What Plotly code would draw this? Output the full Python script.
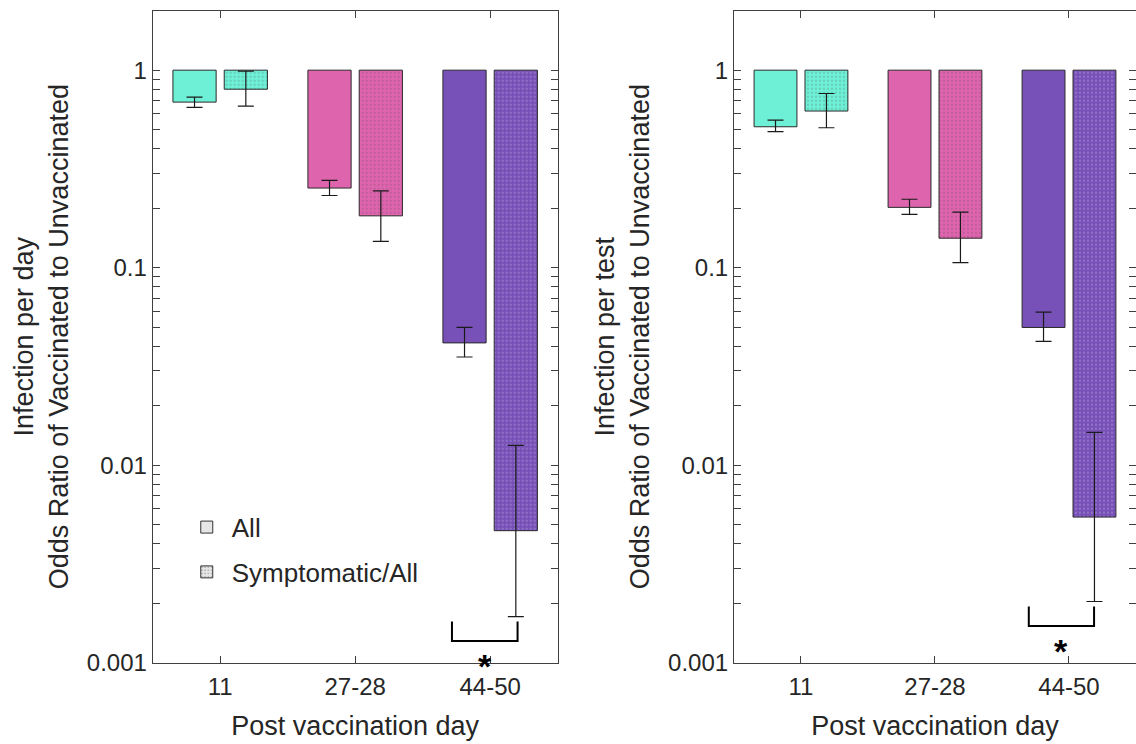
import math
import plotly.graph_objects as go

# ---------------- data ----------------
categories = ["11", "27-28", "44-50"]
cat_pos = [1, 2, 3]

# Left panel: infection per day (odds ratio, vaccinated vs unvaccinated)
day_all = [0.689, 0.253, 0.0416]
day_all_hi = [0.730, 0.277, 0.0498]
day_all_lo = [0.648, 0.232, 0.0353]
day_sym = [0.801, 0.183, 0.00466]
day_sym_hi = [0.99, 0.245, 0.0126]
day_sym_lo = [0.658, 0.136, 0.00171]

# Right panel: infection per test
test_all = [0.517, 0.202, 0.0498]
test_all_hi = [0.559, 0.222, 0.0595]
test_all_lo = [0.488, 0.186, 0.0423]
test_sym = [0.621, 0.141, 0.00546]
test_sym_hi = [0.762, 0.191, 0.01466]
test_sym_lo = [0.511, 0.106, 0.00204]

# significance brackets (x in category units, y in odds-ratio units)
sig_left_x = [2.717, 2.717, 3.203, 3.203]
sig_left_y = [0.001614, 0.001288, 0.001288, 0.001614]
sig_right_x = [2.70, 2.70, 3.187, 3.187]
sig_right_y = [0.001923, 0.001535, 0.001535, 0.001923]

y_tick_vals = [0.001, 0.01, 0.1, 1]
y_tick_text = ["0.001", "0.01", "0.1", "1"]

# ---------------- style ----------------
bar_colors = ["#6EF0D6", "#DE64AE", "#7751B8"]
TXT = "#262626"
AX = "#404040"
FONT = "Liberation Sans, Arial, sans-serif"
BASE = 1.0

DOTS = dict(shape=".", fgcolor="black", size=4, solidity=0.11, fillmode="overlay")

fig = go.Figure()


def add_panel(vals, hi, lo, xa, ya, pattern, offset):
    fig.add_trace(go.Bar(
        x=cat_pos, y=[v - BASE for v in vals], base=BASE,
        width=0.32, offset=offset,
        marker=dict(color=bar_colors, line=dict(color="#2a2a2a", width=1),
                    pattern=pattern),
        error_y=dict(type="data", symmetric=False,
                     array=[h - v for h, v in zip(hi, vals)],
                     arrayminus=[v - l for l, v in zip(lo, vals)],
                     color="#1a1a1a", thickness=1.2, width=8),
        xaxis=xa, yaxis=ya, showlegend=False, hoverinfo="skip"))


add_panel(day_all, day_all_hi, day_all_lo, "x", "y", None, -0.35)
add_panel(day_sym, day_sym_hi, day_sym_lo, "x", "y", DOTS, 0.03)
add_panel(test_all, test_all_hi, test_all_lo, "x2", "y2", None, -0.35)
add_panel(test_sym, test_sym_hi, test_sym_lo, "x2", "y2", DOTS, 0.03)

# brackets
for bx, by, xa, ya in [(sig_left_x, sig_left_y, "x", "y"),
                       (sig_right_x, sig_right_y, "x2", "y2")]:
    fig.add_trace(go.Scatter(x=bx, y=by, mode="lines",
                             line=dict(color="black", width=2),
                             xaxis=xa, yaxis=ya, showlegend=False,
                             cliponaxis=False, hoverinfo="skip"))

# legend keys
fig.add_trace(go.Bar(x=[None], y=[None], name="All",
                     marker=dict(color="#E6E6E6", line=dict(color="#333333", width=1)),
                     xaxis="x", yaxis="y", legendgroup="a"))
fig.add_trace(go.Bar(x=[None], y=[None], name="Symptomatic/All",
                     marker=dict(color="#E6E6E6", line=dict(color="#333333", width=1),
                                 pattern=dict(shape=".", fgcolor="black", size=4,
                                              solidity=0.12, fillmode="overlay")),
                     xaxis="x", yaxis="y", legendgroup="b"))

minor_vals = [m * 10 ** e for e in range(-3, 1) for m in range(2, 10)] + [2]

xcommon = dict(range=[0.5, 3.5], tickmode="array", tickvals=cat_pos, ticktext=categories,
               ticks="inside", ticklen=7, tickcolor=AX, mirror="allticks",
               showline=True, linecolor=AX, linewidth=1, showgrid=False, zeroline=False,
               tickfont=dict(size=24, color=TXT, family=FONT), ticklabelstandoff=3,
               title=dict(text="Post vaccination day", font=dict(size=27, color=TXT, family=FONT),
                          standoff=16),
               automargin=False)
ycommon = dict(type="log", range=[-3, math.log10(2)], tickmode="array",
               tickvals=y_tick_vals, ticktext=y_tick_text,
               ticks="inside", ticklen=7, tickcolor=AX, mirror="allticks",
               minor=dict(tickmode="array", tickvals=minor_vals, ticks="inside",
                          ticklen=7, tickcolor=AX, showgrid=False),
               showline=True, linecolor=AX, linewidth=1, showgrid=False, zeroline=False,
               tickfont=dict(size=24, color=TXT, family=FONT), automargin=False)

fig.update_layout(
    width=1136, height=744,
    margin=dict(l=0, r=0, t=0, b=0),
    paper_bgcolor="white", plot_bgcolor="white",
    barmode="overlay",
    font=dict(family=FONT, color=TXT),
    xaxis=dict(domain=[0.1344, 0.4909], anchor="y", **xcommon),
    xaxis2=dict(domain=[0.6461, 1.0], anchor="y2", **xcommon),
    yaxis=dict(domain=[0.1093, 0.9856], anchor="x",
               title=dict(text="Infection per day<br>Odds Ratio of Vaccinated to Unvaccinated",
                          font=dict(size=27, color=TXT, family=FONT), standoff=10),
               **ycommon),
    yaxis2=dict(domain=[0.1093, 0.9856], anchor="x2",
                title=dict(text="Infection per test<br>Odds Ratio of Vaccinated to Unvaccinated",
                           font=dict(size=27, color=TXT, family=FONT), standoff=10),
                **ycommon),
    legend=dict(x=0.16, y=0.323, xanchor="left", yanchor="top",
                bgcolor="rgba(0,0,0,0)", font=dict(size=26, color=TXT, family=FONT),
                tracegroupgap=8, itemwidth=40),
    annotations=[
        dict(text="<b>*</b>", x=2.96, y=-3.0, xref="x", yref="y", showarrow=False,
             font=dict(size=34, color="black", family=FONT), yanchor="middle", yshift=-3),
        dict(text="<b>*</b>", x=2.94, y=-2.94, xref="x2", yref="y2", showarrow=False,
             font=dict(size=34, color="black", family=FONT), yanchor="middle"),
    ],
)

fig.write_html("out.html", config={"displayModeBar": False},
               post_script="document.body.style.margin='0';")
